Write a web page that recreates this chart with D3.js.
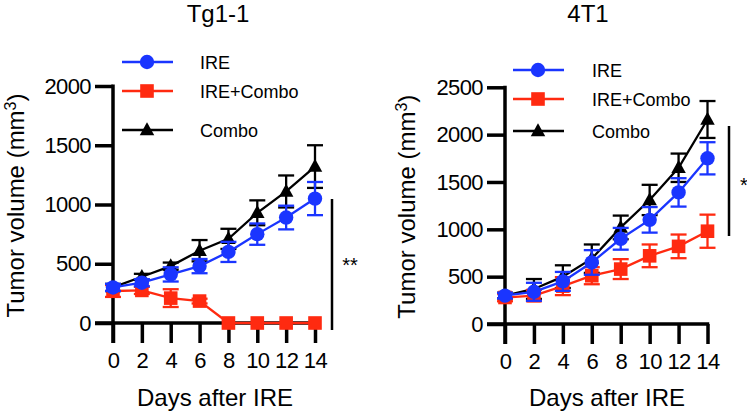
<!DOCTYPE html>
<html>
<head>
<meta charset="utf-8">
<script src="https://cdn.jsdelivr.net/npm/d3@7"></script>
<style>
  html, body { margin: 0; padding: 0; background: #fff; }
  svg { display: block; }
  text { font-family: "Liberation Sans", Arial, sans-serif; fill: #000; }
</style>
</head>
<body>
<svg id="chart" width="747" height="414"></svg>
<script>
// ---------------- DATA ----------------
const days = [0, 2, 4, 6, 8, 10, 12, 14];
const seriesNames = ["IRE", "IRE+Combo", "Combo"];

// Tg1-1 panel
const tgIRE        = [300, 340, 410, 480, 600, 750, 890, 1050];
const tgIREErr     = [30, 30, 60, 60, 85, 90, 100, 140];
const tgIRECombo   = [270, 275, 210, 185, 0, 0, 0, 0];
const tgIREComboErr= [50, 30, 75, 20, 0, 0, 0, 0];
const tgCombo      = [300, 390, 480, 610, 710, 930, 1110, 1320];
const tgComboErr   = [30, 25, 30, 90, 85, 105, 135, 180];
const tgYTicks     = [0, 500, 1000, 1500, 2000];

// 4T1 panel
const t1IRE        = [300, 340, 450, 650, 900, 1100, 1390, 1750];
const t1IREErr     = [30, 95, 100, 130, 115, 135, 150, 170];
const t1IRECombo   = [280, 300, 400, 510, 580, 720, 820, 980];
const t1IREComboErr= [40, 60, 95, 90, 105, 120, 125, 175];
const t1Combo      = [300, 370, 500, 690, 1020, 1310, 1650, 2160];
const t1ComboErr   = [30, 105, 120, 150, 125, 160, 150, 195];
const t1YTicks     = [0, 500, 1000, 1500, 2000, 2500];

const panelTitles = ["Tg1-1", "4T1"];
const sigLabels = ["**", "*"];
const xTitle = "Days after IRE";

// ---------------- STYLE / LAYOUT ----------------
const colors = { "IRE": "#1a35ff", "IRE+Combo": "#ff2a10", "Combo": "#000000" };
const symbols = { "IRE": "circle", "IRE+Combo": "square", "Combo": "triangle" };

const panels = [
  {
    title: panelTitles[0], sig: sigLabels[0],
    x0: 113, x1: 315, yBottom: 323, yTop: 86, yMax: 2000, yTicks: tgYTicks,
    data: { "IRE": [tgIRE, tgIREErr], "IRE+Combo": [tgIRECombo, tgIREComboErr], "Combo": [tgCombo, tgComboErr] },
    titleX: 218, yTitleX: 24, xTitleX: 215,
    legend: { x0: 122, x1: 173, xm: 147, ys: [62, 91, 130], tx: 200 },
    sigLine: { x: 332, y1: 199, y2: 330, tx: 350, ty: 272 }
  },
  {
    title: panelTitles[1], sig: sigLabels[1],
    x0: 505, x1: 707.5, yBottom: 324, yTop: 87.3, yMax: 2500, yTicks: t1YTicks,
    data: { "IRE": [t1IRE, t1IREErr], "IRE+Combo": [t1IRECombo, t1IREComboErr], "Combo": [t1Combo, t1ComboErr] },
    titleX: 588, yTitleX: 415, xTitleX: 607,
    legend: { x0: 513, x1: 564, xm: 538, ys: [70, 99, 131], tx: 592 },
    sigLine: { x: 729, y1: 126, y2: 236, tx: 744, ty: 192 }
  }
];

const svg = d3.select("#chart");

function drawMarker(g, type, cx, cy, color) {
  if (type === "circle") {
    g.append("circle").attr("cx", cx).attr("cy", cy).attr("r", 7.2).attr("fill", color);
  } else if (type === "square") {
    g.append("rect").attr("x", cx - 6.8).attr("y", cy - 6.8).attr("width", 13.6).attr("height", 13.6).attr("fill", color);
  } else {
    const h = 13, w = 14.5;
    g.append("path")
      .attr("d", `M${cx},${cy - h * 0.6} L${cx + w / 2},${cy + h * 0.4} L${cx - w / 2},${cy + h * 0.4} Z`)
      .attr("fill", color);
  }
}

panels.forEach(p => {
  const x = d3.scaleLinear().domain([0, 14]).range([p.x0, p.x1]);
  const y = d3.scaleLinear().domain([0, p.yMax]).range([p.yBottom, p.yTop]);
  const g = svg.append("g");

  // Title
  g.append("text").attr("x", p.titleX).attr("y", 22).attr("text-anchor", "middle")
    .attr("font-size", 24).text(p.title);

  // Y axis
  const yAxis = d3.axisLeft(y).tickValues(p.yTicks).tickSize(18).tickPadding(4).tickFormat(d3.format("d"));
  const ya = g.append("g").attr("transform", `translate(${x(0)},0)`).call(yAxis);
  ya.select(".domain").remove();
  ya.selectAll(".tick line").attr("stroke", "#000").attr("stroke-width", 3.5);
  ya.selectAll(".tick text").attr("font-size", 22).attr("letter-spacing", "-0.6px")
    .attr("font-family", "'Liberation Sans', Arial, sans-serif").attr("fill", "#000");
  g.append("line").attr("x1", x(0)).attr("x2", x(0)).attr("y1", y(p.yMax) - 1.5).attr("y2", p.yBottom + 20)
    .attr("stroke", "#000").attr("stroke-width", 3.5);

  // X axis
  const xAxis = d3.axisBottom(x).tickValues(days).tickSize(20).tickPadding(9).tickFormat(d3.format("d"));
  const xa = g.append("g").attr("transform", `translate(0,${p.yBottom})`).call(xAxis);
  xa.select(".domain").remove();
  xa.selectAll(".tick line").attr("stroke", "#000").attr("stroke-width", 3.5);
  xa.selectAll(".tick text").attr("font-size", 22).attr("letter-spacing", "-0.6px")
    .attr("font-family", "'Liberation Sans', Arial, sans-serif").attr("fill", "#000");
  g.append("line").attr("x1", x(0) - 18).attr("x2", x(14) + 1.75).attr("y1", p.yBottom).attr("y2", p.yBottom)
    .attr("stroke", "#000").attr("stroke-width", 3.5);

  // Axis titles
  g.append("text").attr("x", p.xTitleX).attr("y", 406).attr("text-anchor", "middle")
    .attr("font-size", 24).text(xTitle);
  const yt = g.append("text").attr("transform", `translate(${p.yTitleX},${(p.yTop + p.yBottom) / 2 + 1}) rotate(-90)`)
    .attr("text-anchor", "middle").attr("font-size", 24);
  yt.append("tspan").text("Tumor volume (mm");
  yt.append("tspan").attr("baseline-shift", "super").attr("font-size", 16).text("3");
  yt.append("tspan").text(")");

  // Series: black first, then red, then blue on top
  const order = ["Combo", "IRE+Combo", "IRE"];
  order.forEach(name => {
    const [vals, errs] = p.data[name];
    const color = colors[name];
    const sg = g.append("g");
    // error bars
    vals.forEach((v, i) => {
      const e = errs[i];
      if (e <= 0) return;
      const cx = x(days[i]);
      sg.append("line").attr("x1", cx).attr("x2", cx).attr("y1", y(v + e)).attr("y2", y(v - e))
        .attr("stroke", color).attr("stroke-width", 2.3);
      [v + e, v - e].forEach(t => {
        sg.append("line").attr("x1", cx - 8).attr("x2", cx + 8).attr("y1", y(t)).attr("y2", y(t))
          .attr("stroke", color).attr("stroke-width", 2.3);
      });
    });
    // line
    const line = d3.line().x((d, i) => x(days[i])).y(d => y(d));
    sg.append("path").datum(vals).attr("d", line).attr("fill", "none")
      .attr("stroke", color).attr("stroke-width", 2.3);
    // markers
    vals.forEach((v, i) => drawMarker(sg, symbols[name], x(days[i]), y(v), color));
  });

  // Legend
  seriesNames.forEach((name, i) => {
    const ly = p.legend.ys[i];
    g.append("line").attr("x1", p.legend.x0).attr("x2", p.legend.x1).attr("y1", ly).attr("y2", ly)
      .attr("stroke", colors[name]).attr("stroke-width", 2.3);
    drawMarker(g, symbols[name], p.legend.xm, ly, colors[name]);
    g.append("text").attr("x", p.legend.tx).attr("y", ly + 6.5).attr("font-size", 18).text(name);
  });

  // Significance
  g.append("line").attr("x1", p.sigLine.x).attr("x2", p.sigLine.x).attr("y1", p.sigLine.y1).attr("y2", p.sigLine.y2)
    .attr("stroke", "#000").attr("stroke-width", 2.5);
  g.append("text").attr("x", p.sigLine.tx).attr("y", p.sigLine.ty).attr("text-anchor", "middle")
    .attr("font-size", 20).text(p.sig);
});
</script>
</body>
</html>
